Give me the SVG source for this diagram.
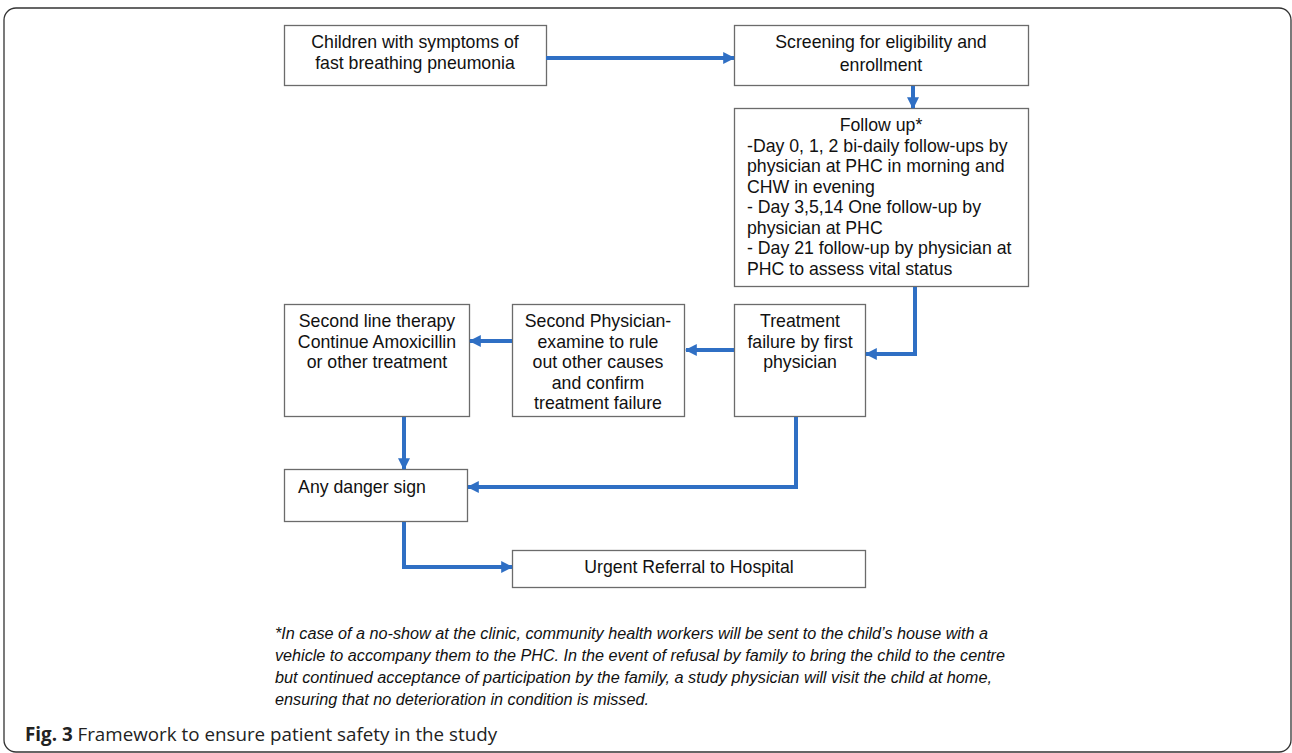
<svg xmlns="http://www.w3.org/2000/svg" width="1292" height="753" viewBox="0 0 1292 753">
<defs>
<marker id="ah" viewBox="0 0 10 10" refX="9" refY="5" markerWidth="3" markerHeight="3" markerUnits="strokeWidth" orient="auto">
<path d="M0,0 L10,5 L0,10 z" fill="#2f6fc4"/>
</marker>
<style>
.box{fill:#fff;stroke:#6b6b6b;stroke-width:1.3}
.t{font-family:"Liberation Sans",Arial,sans-serif;font-size:17.7px;fill:#111}
.c{text-anchor:middle}
.con{fill:none;stroke:#2f6fc4;stroke-width:4;marker-end:url(#ah)}
.fn{font-family:"Liberation Sans Narrow","Liberation Sans",Arial,sans-serif;font-style:italic;font-size:16px;fill:#111}
.cap{font-family:"Open Sans","Noto Sans",sans-serif;font-size:18.8px;fill:#222}
</style>
</defs>
<rect x="4" y="8" width="1287" height="744" rx="12" fill="#fff" stroke="#333" stroke-width="1.3"/>

<g id="n1"><rect class="box" x="284.5" y="25.5" width="262" height="60"/>
<text class="t c" x="415" y="48">Children with symptoms of</text>
<text class="t c" x="415" y="69">fast breathing pneumonia</text></g>

<g id="n2"><rect class="box" x="734.5" y="25.5" width="294" height="60"/>
<text class="t c" x="881" y="48">Screening for eligibility and</text>
<text class="t c" x="881" y="71">enrollment</text></g>

<g id="n3"><rect class="box" x="734.5" y="108.5" width="294" height="178"/>
<text class="t c" x="881" y="131">Follow up*</text>
<text class="t" x="747" y="152">-Day 0, 1, 2 bi-daily follow-ups by</text>
<text class="t" x="747" y="172">physician at PHC in morning and</text>
<text class="t" x="747" y="193">CHW in evening</text>
<text class="t" x="747" y="213">- Day 3,5,14 One follow-up by</text>
<text class="t" x="747" y="234">physician at PHC</text>
<text class="t" x="747" y="254">- Day 21 follow-up by physician at</text>
<text class="t" x="747" y="275">PHC to assess vital status</text></g>

<g id="n4"><rect class="box" x="284.5" y="304.5" width="185" height="112"/>
<text class="t c" x="377" y="327">Second line therapy</text>
<text class="t c" x="377" y="348">Continue Amoxicillin</text>
<text class="t c" x="377" y="368">or other treatment</text></g>

<g id="n5"><rect class="box" x="512.5" y="304.5" width="172" height="112"/>
<text class="t c" x="598" y="327">Second Physician-</text>
<text class="t c" x="598" y="348">examine to rule</text>
<text class="t c" x="598" y="368">out other causes</text>
<text class="t c" x="598" y="389">and confirm</text>
<text class="t c" x="598" y="409">treatment failure</text></g>

<g id="n6"><rect class="box" x="734.5" y="304.5" width="131" height="112"/>
<text class="t c" x="800" y="327">Treatment</text>
<text class="t c" x="800" y="348">failure by first</text>
<text class="t c" x="800" y="368">physician</text></g>

<g id="n7"><rect class="box" x="284.5" y="469.5" width="183" height="52"/>
<text class="t c" x="362" y="493">Any danger sign</text></g>

<g id="n8"><rect class="box" x="512.5" y="550.5" width="353" height="37"/>
<text class="t c" x="689" y="573">Urgent Referral to Hospital</text></g>

<g id="connectors">
<path class="con" d="M546,58 H734"/>
<path class="con" d="M913,86 V108"/>
<path class="con" d="M915,287 V354 H866"/>
<path class="con" d="M734,350 H686"/>
<path class="con" d="M512,341 H470"/>
<path class="con" d="M404,417 V469"/>
<path class="con" d="M796,417 V487 H468"/>
<path class="con" d="M404,522 V567 H512"/>
</g>

<g id="footnote">
<text class="fn" x="275" y="639" textLength="713" lengthAdjust="spacingAndGlyphs">*In case of a no-show at the clinic, community health workers will be sent to the child’s house with a</text>
<text class="fn" x="275" y="661" textLength="730" lengthAdjust="spacingAndGlyphs">vehicle to accompany them to the PHC. In the event of refusal by family to bring the child to the centre</text>
<text class="fn" x="275" y="683" textLength="717" lengthAdjust="spacingAndGlyphs">but continued acceptance of participation by the family, a study physician will visit the child at home,</text>
<text class="fn" x="275" y="705" textLength="374" lengthAdjust="spacingAndGlyphs">ensuring that no deterioration in condition is missed.</text>
</g>

<text class="cap" x="25" y="741"><tspan font-weight="bold">Fig. 3</tspan> Framework to ensure patient safety in the study</text>
</svg>
